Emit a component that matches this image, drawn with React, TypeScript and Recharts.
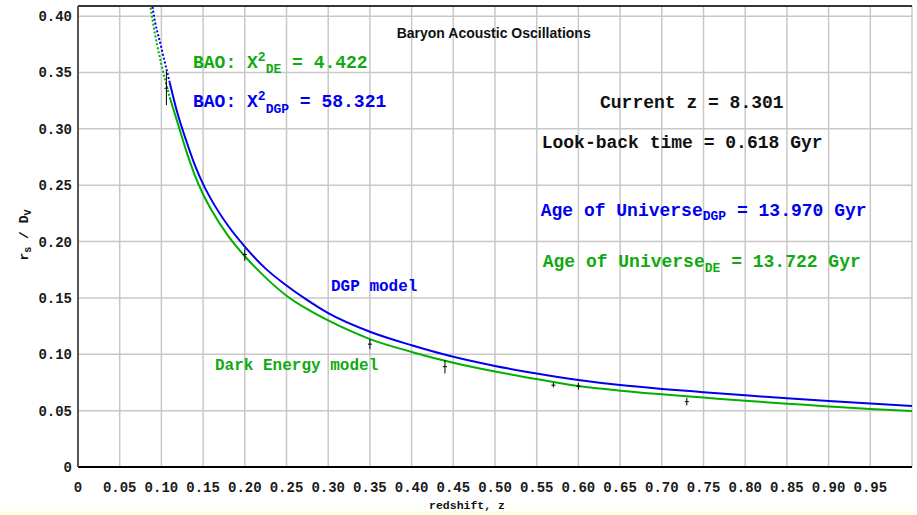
import React from "react";
import {
  ComposedChart,
  Line,
  Scatter,
  ErrorBar,
  XAxis,
  YAxis,
  CartesianGrid,
  ReferenceLine,
} from "recharts";

// redshift grid used for both model curves
const zGrid = [
  0.085, 0.09, 0.1, 0.11, 0.12, 0.13, 0.14, 0.15, 0.16, 0.18, 0.2, 0.225, 0.25,
  0.275, 0.3, 0.35, 0.4, 0.45, 0.5, 0.55, 0.6, 0.65, 0.7, 0.75, 0.8, 0.85, 0.9,
  0.95, 1.0,
];
const darkEnergy = [
  0.418, 0.394, 0.357, 0.328, 0.304, 0.28, 0.259, 0.242, 0.228, 0.205, 0.187,
  0.168, 0.152, 0.14, 0.13, 0.1135, 0.1021, 0.0925, 0.0847, 0.078, 0.0718,
  0.0677, 0.0645, 0.0616, 0.0587, 0.0562, 0.0537, 0.0514, 0.0496,
];
const dgp = [
  0.433, 0.405, 0.372, 0.341, 0.312, 0.289, 0.268, 0.251, 0.237, 0.214, 0.1955,
  0.176, 0.161, 0.148, 0.1365, 0.12, 0.108, 0.0978, 0.0897, 0.083, 0.0772,
  0.0727, 0.0693, 0.0664, 0.0636, 0.061, 0.0586, 0.0563, 0.0541,
];
// curves are dotted below this redshift
const dottedUntil = 0.11;

// BAO measurements
const baoZ = [0.106, 0.2, 0.35, 0.44, 0.57, 0.6, 0.73];
const baoValue = [0.336, 0.1885, 0.109, 0.089, 0.0726, 0.0716, 0.058];
const baoError = [0.015, 0.0055, 0.0045, 0.006, 0.002, 0.003, 0.0034];

const xTicks = [
  0, 0.05, 0.1, 0.15, 0.2, 0.25, 0.3, 0.35, 0.4, 0.45, 0.5, 0.55, 0.6, 0.65,
  0.7, 0.75, 0.8, 0.85, 0.9, 0.95, 1.0,
];
const yTicks = [0, 0.05, 0.1, 0.15, 0.2, 0.25, 0.3, 0.35, 0.4];
const yMax = 0.409;

const BLUE = "#0000f0";
const GREEN = "#00b000";
const GREEN_TEXT = "#10aa10";
const mono = '"Liberation Mono", "Courier New", monospace';

const rows = (vals: number[]) => zGrid.map((z, i) => ({ z, v: vals[i] }));
const dotted = (vals: number[]) => rows(vals).filter((r) => r.z <= dottedUntil);
const solid = (vals: number[]) => rows(vals).filter((r) => r.z >= dottedUntil);
const baoPoints = baoZ.map((z, i) => ({ z, v: baoValue[i], err: baoError[i] }));

const fmt = (t: number) => (t === 0 ? "0" : t >= 1 ? "" : t.toFixed(2));

const tickStyle = { fontFamily: mono, fontWeight: "bold", fontSize: 14, fill: "#1a1a1a" };

export default function App() {
  return (
    <div style={{ position: "relative", width: 917, height: 515, background: "#fff" }}>
      <style>{"body{margin:0;background:#fff}"}</style>
      <ComposedChart
        width={917}
        height={515}
        margin={{ top: 6, right: 5, bottom: 0, left: 0 }}
      >
        <CartesianGrid stroke="#c8c8c8" strokeWidth={1.5} />
        <XAxis
          dataKey="z"
          type="number"
          domain={[0, 1]}
          ticks={xTicks}
          interval={0}
          tickFormatter={fmt}
          height={48}
          tickLine={false}
          tickMargin={9}
          axisLine={{ stroke: "#000", strokeWidth: 2 }}
          tick={tickStyle}
        />
        <YAxis
          type="number"
          domain={[0, yMax]}
          ticks={yTicks}
          allowDataOverflow
          tickFormatter={fmt}
          width={78}
          tickLine={false}
          tickMargin={0}
          axisLine={{ stroke: "#555", strokeWidth: 2 }}
          tick={tickStyle}
        />
        <ReferenceLine y={yMax} stroke="#000" strokeWidth={1.5} />
        <Line data={dotted(darkEnergy)} dataKey="v" type="monotone" stroke={GREEN} strokeWidth={2} strokeDasharray="2 2" dot={false} isAnimationActive={false} />
        <Line data={solid(darkEnergy)} dataKey="v" type="monotone" stroke={GREEN} strokeWidth={2} dot={false} isAnimationActive={false} />
        <Line data={dotted(dgp)} dataKey="v" type="monotone" stroke={BLUE} strokeWidth={2} strokeDasharray="2 2" dot={false} isAnimationActive={false} />
        <Line data={solid(dgp)} dataKey="v" type="monotone" stroke={BLUE} strokeWidth={2} dot={false} isAnimationActive={false} />
        <Scatter
          data={baoPoints}
          dataKey="v"
          isAnimationActive={false}
          shape={(p: any) => (
            <path d={`M${p.cx - 2},${p.cy}H${p.cx + 2}`} stroke="#000" strokeWidth={1} />
          )}
        >
          <ErrorBar dataKey="err" direction="y" width={0} stroke="#000" strokeWidth={1} />
        </Scatter>
      </ComposedChart>

      <svg
        width={917}
        height={515}
        style={{ position: "absolute", left: 0, top: 0, pointerEvents: "none" }}
      >
        <text x={396.7} y={38.3} fontFamily='"Liberation Sans", Arial, sans-serif' fontWeight="bold" fontSize={14} fill="#111">
          Baryon Acoustic Oscillations
        </text>

        <g fontFamily={mono} fontWeight="bold" fontSize={18}>
          <text x={193} y={68} fill={GREEN_TEXT} xmlSpace="preserve">
            BAO: X<tspan fontSize={13} dy={-7.3}>2</tspan>
            <tspan fontSize={13} dy={12.5}>DE</tspan>
            <tspan dy={-5.2}> = 4.422</tspan>
          </text>
          <text x={193} y={106.7} fill={BLUE} xmlSpace="preserve">
            BAO: X<tspan fontSize={13} dy={-6.7}>2</tspan>
            <tspan fontSize={13} dy={13}>DGP</tspan>
            <tspan dy={-6.3}> = 58.321</tspan>
          </text>
          <text x={600} y={108.3} fill="#111" xmlSpace="preserve">Current z = 8.301</text>
          <text x={541.7} y={147.7} fill="#111" xmlSpace="preserve">Look-back time = 0.618 Gyr</text>
          <text x={540.7} y={216} fill={BLUE} xmlSpace="preserve">
            Age of Universe<tspan fontSize={13} dy={4}>DGP</tspan>
            <tspan dy={-4}> = 13.970 Gyr</tspan>
          </text>
          <text x={542.7} y={267.3} fill={GREEN_TEXT} xmlSpace="preserve">
            Age of Universe<tspan fontSize={13} dy={4.4}>DE</tspan>
            <tspan dy={-4.4}> = 13.722 Gyr</tspan>
          </text>
          <text x={331} y={290.7} fill={BLUE} fontSize={16} xmlSpace="preserve">DGP model</text>
          <text x={215} y={370} fill={GREEN_TEXT} fontSize={16} xmlSpace="preserve">Dark Energy model</text>
        </g>

        <text
          x={28}
          y={235}
          transform="rotate(-90 28 235)"
          textAnchor="middle"
          fontFamily={mono}
          fontWeight="bold"
          fontSize={13}
          fill="#111"
          xmlSpace="preserve"
        >
          r<tspan fontSize={10} dy={3}>s</tspan>
          <tspan dy={-3}> / D</tspan>
          <tspan fontSize={10} dy={3}>V</tspan>
        </text>
        <text x={467} y={509} textAnchor="middle" fontFamily={mono} fontWeight="bold" fontSize={11.5} fill="#111" xmlSpace="preserve">
          redshift, z
        </text>
      </svg>
      <div style={{ position: "absolute", left: 0, bottom: 0, width: 917, height: 4, background: "#ffffe1" }} />
    </div>
  );
}
